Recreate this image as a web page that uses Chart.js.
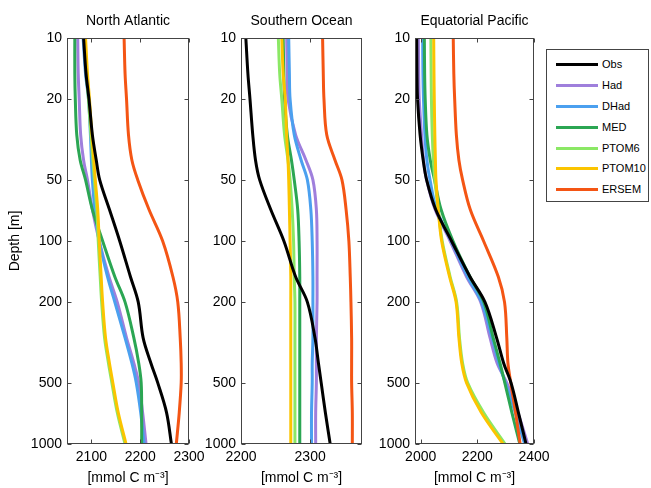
<!DOCTYPE html>
<html>
<head>
<meta charset="utf-8">
<script src="https://cdn.jsdelivr.net/npm/chart.js@4/dist/chart.umd.min.js"></script>
<style>
  body { margin: 0; background: #fff; }
  #wrap { position: relative; width: 651px; height: 488px; font-family: 'Liberation Sans', Arial, sans-serif; }
  #wrap canvas { position: absolute; left: 0; top: 0; }
  #legend { position: absolute; left: 546px; top: 49px; width: 103px; height: 153px; border: 1px solid #444; background: #fff; padding-top: 3.5px; box-sizing: border-box; }
  .item { position: relative; height: 20.9px; font-size: 11px; }
  .item span.swatch { position: absolute; left: 9px; top: 9.5px; width: 42px; height: 3px; }
  .item span.name { position: absolute; left: 55px; top: 0.5px; line-height: 20.9px; color: #000; }
</style>
</head>
<body>
<div id="wrap">
  <canvas id="na" width="651" height="488"></canvas>
  <canvas id="so" width="651" height="488"></canvas>
  <canvas id="ep" width="651" height="488"></canvas>
  <div id="legend"></div>
</div>
<script>
// depth levels [m] and tick labels
const depths = [10, 15, 20, 30, 40, 50, 70, 100, 150, 200, 300, 400, 500, 700, 1000];
const depthTicks = [10, 20, 50, 100, 200, 500, 1000];
const seriesNames = ['Obs', 'Had', 'DHad', 'MED', 'PTOM6', 'PTOM10', 'ERSEM'];

// North Atlantic
const naTicks = [2100, 2200, 2300];
const naObs    = [2084, 2089, 2095, 2102, 2110, 2117, 2137, 2158, 2180, 2196, 2206, 2222, 2236, 2254, 2264];
const naHad    = [2072, 2073, 2075, 2078, 2084, 2092, 2102, 2116, 2136, 2153, 2172, 2187, 2197, 2205, 2212];
const naDHad   = [2083, 2088, 2094, 2098, 2100, 2102, 2107, 2116, 2133, 2148, 2169, 2183, 2192, 2201, 2208];
const naMED    = [2066, 2066, 2067, 2070, 2077, 2088, 2102, 2123, 2148, 2169, 2187, 2197, 2202, 2203, 2203];
const naPTOM6  = [2086, 2090, 2094, 2099, 2103, 2106, 2111, 2114, 2118, 2121, 2127, 2135, 2142, 2153, 2169];
const naPTOM10 = [2088, 2092, 2096, 2101, 2105, 2108, 2113, 2116, 2120, 2123, 2129, 2137, 2144, 2155, 2171];
const naERSEM  = [2167, 2169, 2172, 2176, 2183, 2195, 2218, 2246, 2267, 2277, 2282, 2284, 2284, 2280, 2274];

// Southern Ocean
const soTicks = [2200, 2300];
const soObs    = [2207, 2210, 2213, 2217, 2221, 2227, 2243, 2262, 2279, 2296, 2307, 2312, 2316, 2322, 2329];
const soHad    = [2266, 2267, 2268, 2279, 2294, 2304, 2309, 2310, 2310, 2310, 2309, 2309, 2309, 2308, 2308];
const soDHad   = [2269, 2270, 2271, 2277, 2287, 2296, 2301, 2303, 2304, 2304, 2304, 2303, 2303, 2302, 2302];
const soMED    = [2261, 2262, 2263, 2267, 2273, 2277, 2282, 2284, 2285, 2285, 2285, 2285, 2285, 2285, 2285];
const soPTOM6  = [2254, 2256, 2259, 2263, 2268, 2271, 2274, 2276, 2277, 2278, 2278, 2278, 2278, 2278, 2278];
const soPTOM10 = [2259, 2261, 2264, 2266, 2268, 2269, 2270, 2271, 2272, 2272, 2272, 2272, 2272, 2272, 2272];
const soERSEM  = [2318, 2319, 2320, 2324, 2336, 2346, 2352, 2356, 2358, 2359, 2360, 2360, 2360, 2361, 2361];

// Equatorial Pacific
const epTicks = [2000, 2200, 2400];
const epObs    = [1986, 1987, 1989, 1998, 2009, 2021, 2053, 2109, 2174, 2227, 2268, 2293, 2319, 2345, 2372];
const epHad    = [1992, 1993, 1995, 2003, 2010, 2021, 2051, 2104, 2162, 2212, 2245, 2270, 2304, 2343, 2378];
const epDHad   = [2007, 2008, 2010, 2015, 2022, 2033, 2056, 2108, 2166, 2215, 2252, 2276, 2299, 2334, 2367];
const epMED    = [2013, 2014, 2016, 2022, 2034, 2049, 2072, 2114, 2174, 2223, 2256, 2280, 2297, 2322, 2350];
const epPTOM6  = [2036, 2037, 2038, 2041, 2045, 2050, 2062, 2076, 2104, 2127, 2137, 2148, 2166, 2222, 2298];
const epPTOM10 = [2046, 2047, 2048, 2050, 2052, 2054, 2062, 2074, 2102, 2125, 2135, 2145, 2162, 2214, 2291];
const epERSEM  = [2115, 2117, 2120, 2126, 2135, 2148, 2175, 2222, 2274, 2296, 2304, 2308, 2318, 2335, 2351];

const seriesColors = ['#000000', '#9f7fdc', '#4ba0ef', '#2ba653', '#8be865', '#fbc400', '#f45514'];
const drawOrder = [0, 6, 5, 4, 3, 2, 1];
const FONT = "'Liberation Sans', Arial, sans-serif";
const W = 651;

// box around the plot area with inward ticks on all sides
const boxTicks = {
  id: 'boxTicks',
  afterDraw(chart) {
    const { ctx, chartArea: a, scales: { x, y } } = chart;
    const L = Math.round(a.left) + 0.5, R = Math.round(a.right) - 0.5;
    const T = Math.round(a.top) + 0.5, B = Math.round(a.bottom) - 0.5;
    ctx.save();
    ctx.strokeStyle = '#444';
    ctx.lineWidth = 1;
    ctx.strokeRect(L, T, R - L, B - T);
    ctx.beginPath();
    x.ticks.forEach(t => {
      const p = Math.round(x.getPixelForValue(t.value)) + 0.5;
      ctx.moveTo(p, B); ctx.lineTo(p, B - 4);
      ctx.moveTo(p, T); ctx.lineTo(p, T + 4);
    });
    y.ticks.forEach(t => {
      const p = Math.round(y.getPixelForValue(t.value)) + 0.5;
      ctx.moveTo(L, p); ctx.lineTo(L + 4, p);
      ctx.moveTo(R, p); ctx.lineTo(R - 4, p);
    });
    ctx.stroke();
    ctx.restore();
  }
};

function makePanel(id, title, series, xMin, xMax, xTicks, left, right, yWidth, yTitle) {
  return new Chart(document.getElementById(id), {
    type: 'line',
    data: {
      datasets: series.map((vals, i) => ({
        label: seriesNames[i],
        data: vals.map((v, k) => ({ x: v, y: depths[k] })),
        borderColor: seriesColors[i],
        backgroundColor: seriesColors[i],
        borderWidth: 3,
        pointRadius: 0,
        tension: 0.35,
        fill: false,
        order: drawOrder[i]
      }))
    },
    options: {
      responsive: false,
      animation: false,
      events: [],
      layout: { padding: { left: left - yWidth, right: W - right, top: 0, bottom: 0 } },
      plugins: {
        legend: { display: false },
        tooltip: { enabled: false },
        title: {
          display: true, text: title, fullSize: false, color: '#000',
          font: { family: FONT, size: 14, weight: 'normal' },
          padding: { top: 12.5, bottom: 8.7 }
        }
      },
      scales: {
        x: {
          type: 'linear', position: 'bottom', min: xMin, max: xMax,
          afterBuildTicks: s => { s.ticks = xTicks.map(v => ({ value: v })); },
          afterFit: s => { s.height = 44; },
          grid: { display: false, drawTicks: false },
          border: { display: false },
          ticks: { color: '#000', padding: 5, maxRotation: 0, font: { family: FONT, size: 14 }, callback: v => String(v) },
          title: { display: true, text: '[mmol C m⁻³]', color: '#000', font: { family: FONT, size: 14 }, padding: { top: 0, bottom: 1 } }
        },
        y: {
          type: 'logarithmic', position: 'left', reverse: true, min: 10, max: 1000,
          afterBuildTicks: s => { s.ticks = depthTicks.map(v => ({ value: v })); },
          afterFit: s => { s.width = yWidth; },
          grid: { display: false, drawTicks: false },
          border: { display: false },
          ticks: { color: '#000', padding: 5, font: { family: FONT, size: 14 }, callback: v => String(v) },
          title: { display: yTitle, text: 'Depth [m]', color: '#000', font: { family: FONT, size: 14 }, padding: { top: 7, bottom: 0 } }
        }
      }
    },
    plugins: [boxTicks]
  });
}

const na = makePanel('na', 'North Atlantic',
  [naObs, naHad, naDHad, naMED, naPTOM6, naPTOM10, naERSEM], 2050, 2300, naTicks, 67, 189, 67, true);
makePanel('so', 'Southern Ocean',
  [soObs, soHad, soDHad, soMED, soPTOM6, soPTOM10, soERSEM], 2200, 2375, soTicks, 241, 362, 50, false);
makePanel('ep', 'Equatorial Pacific',
  [epObs, epHad, epDHad, epMED, epPTOM6, epPTOM10, epERSEM], 1980, 2400, epTicks, 415, 534, 50, false);

// legend built from the first chart's datasets
const legendEl = document.getElementById('legend');
na.data.datasets.forEach(ds => {
  const row = document.createElement('div');
  row.className = 'item';
  row.innerHTML = '<span class="swatch" style="background:' + ds.borderColor + '"></span><span class="name">' + ds.label + '</span>';
  legendEl.appendChild(row);
});
</script>
</body>
</html>
